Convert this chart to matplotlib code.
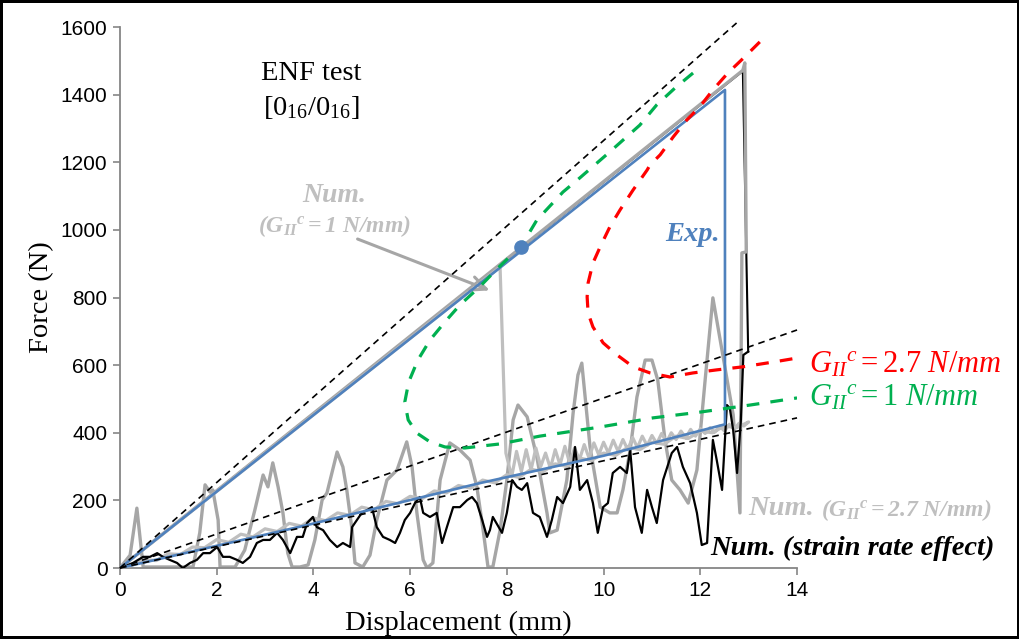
import matplotlib.pyplot as plt
import numpy as np

plt.rcParams['font.family'] = ['Liberation Serif', 'DejaVu Serif']
plt.rcParams['mathtext.fontset'] = 'custom'
plt.rcParams['mathtext.rm'] = 'Liberation Serif'
plt.rcParams['mathtext.it'] = 'Liberation Serif:italic'
plt.rcParams['mathtext.bf'] = 'Liberation Serif:italic:bold'

# ---- datos (desplazamiento mm, fuerza N) ----
# Exp.
exp_x = [0, 12.51, 12.51, 10.0, 7.44, 3.87, 0]
exp_y = [0, 1414, 425, 332, 251, 127, 0]
exp_punto = (8.3, 950)

# rectas de referencia (discontinuas negras)
ref_x = [[0, 12.75], [0, 14.0], [0, 14.0]]
ref_y = [[0, 1612], [0, 704], [0, 444]]

# analitico G_IIc = 2.7 N/mm
rojo_x = [13.23, 12.92, 12.57, 12.26, 11.99, 11.72, 11.44, 11.17, 10.96, 10.90, 10.61, 10.34, 10.13,
          9.93, 9.78, 9.68, 9.66, 9.68, 9.78, 9.99, 10.28, 10.61, 10.96, 11.37, 11.85, 12.34, 12.88, 13.50, 14.0]
rojo_y = [1556, 1512, 1464, 1414, 1364, 1325, 1275, 1222, 1192, 1177, 1118, 1059, 1009,
          950, 902, 843, 802, 754, 713, 666, 630, 595, 577, 565, 577, 586, 595, 609, 621]

# analitico G_IIc = 1 N/mm
verde_x = [11.85, 11.48, 11.10, 10.75, 10.13, 9.51, 9.16, 8.62, 8.31, 7.80, 7.44, 7.03, 6.72, 6.41, 6.16,
           5.97, 5.89, 5.96, 6.14, 6.41, 6.72, 7.13, 7.86, 8.68, 9.93, 11.02, 11.99, 13.03, 14.0]
verde_y = [1464, 1420, 1370, 1310, 1231, 1154, 1112, 1029, 955, 885, 832, 778, 728, 674, 615,
           550, 491, 438, 399, 373, 358, 355, 367, 390, 417, 444, 461, 482, 503]

# Num. G_IIc = 2.7 N/mm (gris oscuro)
num27_x = [0, 12.88, 12.92, 12.95, 12.86, 12.82, 12.68, 12.26, 12.10, 11.93, 11.75, 11.58, 11.41, 11.27,
           11.12, 11.00, 10.86, 10.69, 10.55, 10.40, 10.28, 10.13, 9.93, 9.72, 9.55, 9.47, 9.37, 9.24,
           9.04, 8.89, 8.83, 8.62, 8.42, 8.23, 8.13, 8.00, 7.86, 7.71, 7.61, 7.51, 7.38, 7.24, 7.03,
           6.82, 6.62, 6.47, 6.35, 6.27, 6.14, 6.04, 5.93, 5.73, 5.52, 5.31, 5.17, 5.02, 4.86, 4.80,
           4.69, 4.61, 4.49, 4.28, 4.18, 4.03, 3.89, 3.72, 3.56, 3.47, 3.37, 3.27, 3.16, 3.06, 2.96,
           2.79, 2.58, 2.38, 2.07, 2.03, 1.92, 1.86, 1.76, 1.65, 1.51, 0.62, 0.48, 0.35, 0.21, 0]
num27_y = [0, 1472, 1494, 935, 932, 163, 453, 799, 556, 290, 192, 231, 260, 379,
           556, 615, 615, 506, 349, 231, 163, 163, 180, 358, 606, 571, 458, 260,
           112, 104, 163, 328, 447, 482, 438, 260, 112, 3, 3, 112, 240, 319, 349,
           370, 260, 15, 0, 24, 163, 299, 373, 290, 260, 142, 38, 3, 15, 112,
           231, 299, 343, 222, 201, 83, 9, 3, 3, 44, 163, 240, 311, 240, 275,
           172, 53, 3, 3, 142, 231, 225, 246, 104, 3, 3, 3, 177, 38, 0]

# Num. G_IIc = 1 N/mm (gris claro)
num1_x = [0, 7.86, 7.98,
          8.1, 8.2, 8.3, 8.4, 8.5, 8.6, 8.7, 8.8, 8.9, 9.0, 9.1, 9.2, 9.3, 9.4, 9.5, 9.6, 9.7, 9.8, 9.9,
          10.0, 10.1, 10.2, 10.3, 10.4, 10.5, 10.6, 10.7, 10.8, 10.9, 11.0, 11.1, 11.2, 11.3, 11.4, 11.5,
          11.6, 11.7, 11.8, 11.9, 12.0, 12.1, 12.2, 12.3, 12.4, 12.5, 12.6, 12.7, 12.8, 12.9, 13.0,
          12.75, 12.5, 12.25, 12.0, 11.75, 11.5, 11.25, 11.0, 10.75, 10.5, 10.25, 10.0, 9.75, 9.5, 9.25,
          9.0, 8.75, 8.5, 8.25, 8.0, 7.75, 7.5, 7.25, 7.0, 6.75, 6.5, 6.25, 6.0, 5.75, 5.5, 5.25, 5.0,
          4.75, 4.5, 4.25, 4.0, 3.75, 3.5, 3.25, 3.0, 2.75, 2.5, 2.25, 2.0, 1.75, 1.5, 1.25, 1.0, 0.75,
          0.5, 0.25, 0.0]
num1_y = [0, 890, 340,
          270, 345, 285, 350, 290, 355, 300, 340, 295, 350, 305, 360, 310, 355, 320, 365, 325, 370, 335,
          372, 340, 378, 345, 380, 350, 386, 356, 390, 362, 392, 368, 398, 372, 400, 380,
          405, 385, 410, 390, 412, 398, 415, 402, 420, 405, 425, 410, 428, 420, 432,
          415, 420, 400, 405, 383, 390, 366, 372, 350, 357, 333, 340, 318, 325, 300,
          308, 285, 292, 268, 276, 252, 260, 236, 244, 222, 228, 205, 212, 190, 197, 172, 180,
          156, 163, 140, 148, 124, 132, 108, 116, 92, 100, 76, 84, 60, 62, 40, 42, 22,
          25, 8, 0]

# Num. efecto velocidad de deformacion (negro)
vel_x = [0, 12.88, 12.99, 12.89, 12.84, 12.76, 12.68, 12.61, 12.55, 12.45, 12.34, 12.26, 12.14, 12.03,
         11.93, 11.79, 11.64, 11.52, 11.41, 11.23, 11.10, 11.00, 10.90, 10.79, 10.65, 10.55, 10.48,
         10.34, 10.19, 10.09, 9.99, 9.88, 9.78, 9.66, 9.51, 9.41, 9.31, 9.16, 9.04, 8.93, 8.83, 8.68,
         8.54, 8.42, 8.31, 8.21, 8.11, 8.00, 7.90, 7.71, 7.65, 7.59, 7.49, 7.38, 7.28, 7.18, 7.03,
         6.89, 6.76, 6.66, 6.55, 6.41, 6.27, 6.20, 6.10, 6.00, 5.89, 5.79, 5.69, 5.58, 5.44, 5.31,
         5.21, 5.11, 5.00, 4.90, 4.80, 4.76, 4.61, 4.49, 4.34, 4.20, 4.07, 3.99, 3.93, 3.87, 3.78,
         3.66, 3.52, 3.37, 3.25, 3.10, 2.96, 2.83, 2.69, 2.54, 2.42, 2.27, 2.13, 2.01, 1.86, 1.72,
         1.59, 1.45, 1.30, 1.18, 1.03, 0.89, 0.77, 0.62, 0.48, 0.27, 0.06, 0]
vel_y = [0, 1470, 640, 630, 438, 281, 408, 473, 482, 231, 319, 379, 74, 68,
         163, 251, 299, 358, 340, 260, 133, 180, 231, 104, 180, 349, 281,
         299, 281, 192, 180, 104, 192, 260, 231, 358, 240, 192, 210, 142, 92, 151,
         163, 251, 231, 240, 260, 163, 104, 151, 112, 92, 142, 192, 210, 201, 180,
         180, 121, 74, 163, 151, 163, 210, 192, 163, 142, 104, 74, 83, 92, 121,
         180, 171, 163, 142, 121, 62, 74, 62, 83, 112, 121, 151, 142, 133, 92,
         92, 44, 83, 104, 83, 83, 74, 33, 15, 24, 33, 33, 62, 44, 44,
         24, 15, 0, 15, 24, 33, 44, 33, 33, 15, 3, 0]

xticks = np.arange(0, 15, 2)
yticks = np.arange(0, 1601, 200)

gris_osc = '#a6a6a6'
gris_cla = '#bfbfbf'
azul = '#4f81bd'
rojo = '#ff0000'
verde = '#00b050'

fig = plt.figure(figsize=(10.2, 6.39), dpi=100)
fig.patch.set_edgecolor('black')
fig.patch.set_linewidth(3)
ax = fig.add_axes([0.1176, 0.1111, 0.6638, 0.8466])

# tramo de carga del negro queda debajo del gris
ax.plot(vel_x[:3], vel_y[:3], color='black', lw=1.5, zorder=1)
ax.plot(num27_x, num27_y, color=gris_osc, lw=2.4, zorder=2)
ax.plot(num1_x, num1_y, color=gris_cla, lw=2.3, zorder=3)
ax.plot(vel_x[2:], vel_y[2:], color='black', lw=1.6, zorder=4)
ax.plot(exp_x, exp_y, color=azul, lw=1.9, zorder=5)

for rx, ry in zip(ref_x, ref_y):
    ax.plot(rx, ry, color='black', lw=1.2, ls=(0, (4, 3)), zorder=6, clip_on=False)
ax.plot(rojo_x, rojo_y, color=rojo, lw=2.3, ls=(0, (4, 3.5)), zorder=6)
ax.plot(verde_x, verde_y, color=verde, lw=2.3, ls=(0, (4, 3.5)), zorder=6)
ax.plot(*exp_punto, 'o', color=azul, ms=9.5, zorder=7)

ax.set_xlim(0, 14)
ax.set_ylim(0, 1600)
ax.set_xticks(xticks)
ax.set_yticks(yticks)
for lab in ax.get_xticklabels() + ax.get_yticklabels():
    lab.set_fontfamily('Liberation Sans')
    lab.set_fontsize(15)
ax.tick_params(direction='out', length=5, width=1.2, color='#868686', pad=4)
ax.spines['top'].set_visible(False)
ax.spines['right'].set_visible(False)
for s in ('left', 'bottom'):
    ax.spines[s].set_color('#868686')
    ax.spines[s].set_linewidth(1.3)

ax.set_xlabel('Displacement (mm)', fontsize=20.5, labelpad=8)
ax.set_ylabel('Force (N)', fontsize=20.5, labelpad=5)

# textos
ax.text(3.95, 1464, 'ENF test', fontsize=20.5, ha='center', va='center')
ax.text(3.95, 1361, r'$[0_{16}/0_{16}]$', fontsize=20.5, ha='center', va='center')
ax.text(4.43, 1103, 'Num.', fontsize=20, fontweight='bold', fontstyle='italic', color=gris_cla,
        ha='center', va='center')
ax.text(4.43, 1012, r'$\mathbf{(G_{II}{}^{c} = 1\ N/mm)}$', fontsize=17, color=gris_cla,
        ha='center', va='center')
ax.annotate('', xy=(7.7, 818), xytext=(4.86, 976),
            arrowprops=dict(arrowstyle='->,head_length=1.1,head_width=0.5', color=gris_osc, lw=2.2))
ax.text(11.83, 985, 'Exp.', fontsize=20.5, fontweight='bold', fontstyle='italic', color=azul,
        ha='center', va='center')
ax.text(14.25, 600, r'$\mathit{G_{II}{}^{c} = 2.7\ N/mm}$', fontsize=22, color=rojo,
        ha='left', va='center', clip_on=False)
ax.text(14.25, 503, r'$\mathit{G_{II}{}^{c} = 1\ N/mm}$', fontsize=22, color=verde,
        ha='left', va='center', clip_on=False)
ax.text(12.99, 177, 'Num.', fontsize=20.5, fontweight='bold', fontstyle='italic', color=gris_cla,
        ha='left', va='center', clip_on=False)
ax.text(14.5, 172, r'$\mathbf{(G_{II}{}^{c} = 2.7\ N/mm)}$', fontsize=17, color=gris_cla,
        ha='left', va='center', clip_on=False)
ax.text(12.2, 59, 'Num. (strain rate effect)', fontsize=20.5, fontweight='bold', fontstyle='italic',
        color='black', ha='left', va='center', clip_on=False)

fig.savefig('out.png', dpi=100, edgecolor='black')
